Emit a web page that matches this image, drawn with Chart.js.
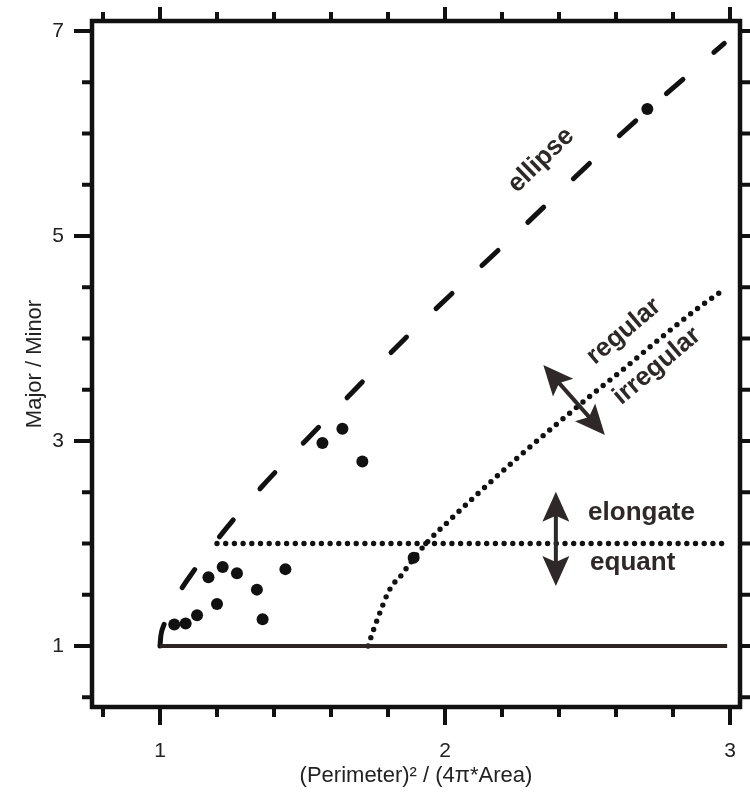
<!DOCTYPE html>
<html>
<head>
<meta charset="utf-8">
<script src="https://cdn.jsdelivr.net/npm/chart.js@4.4.1/dist/chart.umd.min.js"></script>
<style>
  html, body { margin: 0; padding: 0; background: #fff; }
</style>
</head>
<body>
<canvas id="chart" width="750" height="792"></canvas>
<script>
// measured grains
const grainX = [1.05, 1.09, 1.13, 1.17, 1.20, 1.22, 1.27, 1.34, 1.36, 1.44, 1.57, 1.64, 1.71, 1.89, 2.71];
const grainY = [1.21, 1.22, 1.30, 1.67, 1.41, 1.77, 1.71, 1.55, 1.26, 1.75, 2.98, 3.12, 2.80, 1.86, 6.24];

// ellipse reference curve (dashed)
const ellipseX = [1.00, 1.003, 1.013, 1.028, 1.063, 1.11, 1.19, 1.34, 1.44, 1.51, 1.86, 2.24, 2.62, 2.98];
const ellipseY = [1.00, 1.10, 1.20, 1.30, 1.50, 1.70, 2.00, 2.50, 2.80, 3.00, 4.00, 5.00, 6.00, 6.88];

// regular / irregular boundary (dotted curve)
const roughX = [1.73, 1.752, 1.775, 1.80, 1.82, 1.85, 1.87, 1.94, 2.01, 2.105, 2.26, 2.39, 2.51, 2.63, 2.75, 2.88, 2.97];
const roughY = [1.00, 1.18, 1.35, 1.52, 1.61, 1.70, 1.78, 2.02, 2.21, 2.46, 2.85, 3.16, 3.44, 3.71, 3.99, 4.28, 4.46];

// elongate / equant boundary (dotted) and circle line (solid)
const equantX = [1.2, 3.0];
const equantY = [2, 2];
const circleX = [1.0, 2.99];
const circleY = [1, 1];

// axes
const xTicks = [0.8, 1.0, 1.2, 1.4, 1.6, 1.8, 2.0, 2.2, 2.4, 2.6, 2.8, 3.0];
const xLabeled = [1, 2, 3];
const yTicks = [0.5, 1, 1.5, 2, 2.5, 3, 3.5, 4, 4.5, 5, 5.5, 6, 6.5, 7];
const yLabeled = [1, 3, 5, 7];
const xMin = 0.7614, xMax = 3.0351;
const yMin = 0.4049, yMax = 7.0976;

const INK = '#111';
const BROWN = '#2d2524';
const TEXT = '#2f2828';

const pts = (xs, ys) => xs.map((x, i) => ({ x, y: ys[i] }));

// labels and arrows, placed in data units
const notes = [
  { text: 'ellipse', x: 2.337, y: 5.74, angle: -44, align: 'center' },
  { text: 'regular', x: 2.628, y: 4.07, angle: -40, align: 'center' },
  { text: 'irregular', x: 2.744, y: 3.73, angle: -40, align: 'center' },
  { text: 'elongate', x: 2.502, y: 2.30, angle: 0, align: 'left' },
  { text: 'equant', x: 2.509, y: 1.81, angle: 0, align: 'left' },
];
const arrows = [
  { from: [2.345, 3.741], to: [2.561, 3.059] },
  { from: [2.389, 2.505], to: [2.389, 1.585] },
];

function arrowHead(ctx, tx, ty, ux, uy) {
  const L = 30, W = 13.5, N = 24;
  const nx = -uy, ny = ux;
  ctx.beginPath();
  ctx.moveTo(tx, ty);
  ctx.lineTo(tx - ux * L + nx * W, ty - uy * L + ny * W);
  ctx.lineTo(tx - ux * N, ty - uy * N);
  ctx.lineTo(tx - ux * L - nx * W, ty - uy * L - ny * W);
  ctx.closePath();
  ctx.fill();
}

const frameTicks = {
  id: 'frameTicks',
  afterDatasetsDraw(chart) {
    const { ctx, chartArea: a, scales: { x, y } } = chart;
    ctx.save();
    ctx.strokeStyle = INK;
    ctx.lineWidth = 4.5;
    ctx.strokeRect(a.left, a.top, a.right - a.left, a.bottom - a.top);
    ctx.lineWidth = 4;
    ctx.beginPath();
    xTicks.forEach(v => {
      const px = x.getPixelForValue(v);
      const major = xLabeled.includes(v);
      ctx.moveTo(px, a.bottom); ctx.lineTo(px, a.bottom + (major ? 18 : 10));
      ctx.moveTo(px, a.top); ctx.lineTo(px, a.top - (major ? 14 : 9));
    });
    yTicks.forEach(v => {
      const py = y.getPixelForValue(v);
      const major = yLabeled.includes(v);
      ctx.moveTo(a.left, py); ctx.lineTo(a.left - (major ? 18 : 10), py);
      ctx.moveTo(a.right, py); ctx.lineTo(a.right + (major ? 14 : 10), py);
    });
    ctx.stroke();
    ctx.restore();
  }
};

const annotations = {
  id: 'annotations',
  afterDatasetsDraw(chart) {
    const { ctx, scales: { x, y } } = chart;
    ctx.save();
    ctx.fillStyle = TEXT;
    ctx.strokeStyle = TEXT;
    ctx.font = 'bold 26px "Liberation Sans", Arial, sans-serif';
    ctx.textBaseline = 'middle';
    notes.forEach(n => {
      ctx.save();
      ctx.translate(x.getPixelForValue(n.x), y.getPixelForValue(n.y));
      ctx.rotate(n.angle * Math.PI / 180);
      ctx.textAlign = n.align;
      ctx.fillText(n.text, 0, 0);
      ctx.restore();
    });
    ctx.lineWidth = 4;
    arrows.forEach(ar => {
      const x1 = x.getPixelForValue(ar.from[0]), y1 = y.getPixelForValue(ar.from[1]);
      const x2 = x.getPixelForValue(ar.to[0]), y2 = y.getPixelForValue(ar.to[1]);
      const len = Math.hypot(x2 - x1, y2 - y1);
      const ux = (x2 - x1) / len, uy = (y2 - y1) / len;
      ctx.beginPath();
      ctx.moveTo(x1 + ux * 20, y1 + uy * 20);
      ctx.lineTo(x2 - ux * 20, y2 - uy * 20);
      ctx.stroke();
      arrowHead(ctx, x2, y2, ux, uy);
      arrowHead(ctx, x1, y1, -ux, -uy);
    });
    ctx.restore();
  }
};

const FAMILY = '"Liberation Sans", Arial, sans-serif';

new Chart(document.getElementById('chart'), {
  type: 'scatter',
  data: {
    datasets: [
      { data: pts(grainX, grainY), pointRadius: 6, pointBackgroundColor: INK, pointBorderWidth: 0 },
      { data: pts(circleX, circleY), showLine: true, borderColor: BROWN, borderWidth: 4, pointRadius: 0 },
      { data: pts(ellipseX, ellipseY), showLine: true, borderColor: INK, borderWidth: 5,
        borderDash: [22, 41], borderCapStyle: 'round', cubicInterpolationMode: 'monotone', pointRadius: 0 },
      { data: pts(equantX, equantY), showLine: true, borderColor: INK, borderWidth: 5.4,
        borderDash: [0, 8.7], borderCapStyle: 'round', pointRadius: 0 },
      { data: pts(roughX, roughY), showLine: true, borderColor: INK, borderWidth: 5.4,
        borderDash: [0, 8.7], borderCapStyle: 'round', cubicInterpolationMode: 'monotone', pointRadius: 0 },
    ]
  },
  options: {
    responsive: false,
    animation: false,
    devicePixelRatio: 1,
    layout: { padding: { top: 21, right: 10, left: 0, bottom: 0 } },
    plugins: { legend: { display: false }, tooltip: { enabled: false } },
    scales: {
      x: {
        type: 'linear', min: xMin, max: xMax,
        afterBuildTicks: s => { s.ticks = xTicks.map(v => ({ value: v })); },
        afterFit: s => { s.height = 85; },
        grid: { display: false, drawTicks: true, tickLength: 32 },
        border: { display: false },
        ticks: {
          autoSkip: false, maxRotation: 0, padding: 0, color: '#222', font: { family: FAMILY, size: 21 },
          callback: v => xLabeled.includes(v) ? String(v) : ''
        },
        title: { display: true, text: '(Perimeter)² / (4π*Area)', color: '#222',
          font: { family: FAMILY, size: 22 }, padding: { top: 0, bottom: 3 } }
      },
      y: {
        type: 'linear', min: yMin, max: yMax,
        afterBuildTicks: s => { s.ticks = yTicks.map(v => ({ value: v })); },
        afterFit: s => { s.width = 92; },
        grid: { display: false, drawTicks: true, tickLength: 28 },
        border: { display: false },
        ticks: {
          autoSkip: false, padding: 0, color: '#222', font: { family: FAMILY, size: 21 },
          callback: v => yLabeled.includes(v) ? String(v) : ''
        },
        title: { display: true, text: 'Major / Minor', color: '#222',
          font: { family: FAMILY, size: 22 }, padding: { top: 22, bottom: 0 } }
      }
    }
  },
  plugins: [frameTicks, annotations]
});
</script>
</body>
</html>
